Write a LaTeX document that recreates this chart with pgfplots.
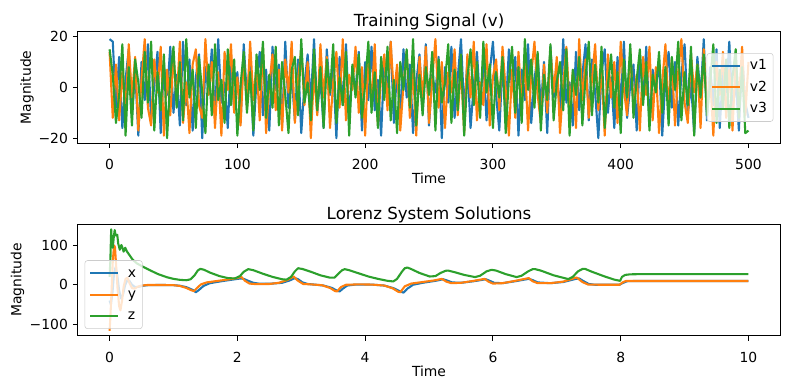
\documentclass[border=0pt]{standalone}
\usepackage{pgfplots}
\pgfplotsset{compat=1.18}
\usepackage{pgfplotstable}
\usepackage{fontspec}
\setmainfont{DejaVu Sans}
\definecolor{c0}{HTML}{1F77B4}
\definecolor{c1}{HTML}{FF7F0E}
\definecolor{c2}{HTML}{2CA02C}

\pgfplotstableread{
t v1 v2 v3
0 19 14 15
2.5 18 -12 5
5 -8 9 -14
7.5 12 -13 -3
10 -16 6 17
12.5 3 -9 -19
15 15 17 8
17.5 -11 -4 -15
20 7 12 11
22.5 -19 -17 2
25 10 3 -12
27.5 -5 19 14
30 17 -8 -6
32.5 -13 -15 18
35 1 11 -17
37.5 14 -2 6
40 -18 16 -9
42.5 9 -19 13
45 -3 7 -20
47.5 16 -11 4
50 -10 13 16
52.5 5 -6 -8
55 -15 18 10
57.5 18 -14 -13
60 -7 2 19
62.5 11 -18 -4
65 -17 9 7
67.5 4 15 -16
70 13 -7 12
72.5 -20 -12 -2
75 8 19 -18
77.5 -2 -3 9
80 15 10 -11
82.5 -12 -16 17
85 19 6 -5
87.5 -6 -19 3
90 2 14 -14
92.5 -16 -1 15
95 12 17 -7
97.5 -9 -10 11
100 6 4 -19
102.5 -14 -15 1
105 17 12 14
107.5 -4 -8 -10
110 10 18 6
112.5 -19 -5 -17
115 3 9 13
117.5 14 -13 -1
120 -11 16 18
122.5 7 -18 -12
125 -17 1 5
127.5 16 13 -8
130 -1 -9 16
132.5 9 7 -15
135 -15 -17 10
137.5 18 11 -3
140 -8 -2 -18
142.5 5 18 7
145 -13 -14 12
147.5 11 3 -11
150 -18 15 19
152.5 1 -7 -6
155 13 10 2
157.5 -6 -20 -13
160 19 6 15
162.5 -10 -11 -9
165 4 17 8
167.5 -16 -4 -16
170 15 12 11
172.5 -3 -16 -2
175 8 2 17
177.5 -20 14 -14
180 12 -8 4
182.5 -7 19 -7
185 17 -13 14
187.5 -12 5 -19
190 6 -1 9
192.5 -1 16 -4
195 14 -10 13
197.5 -17 8 -12
200 10 -19 1
202.5 -5 11 18
205 16 -6 -10
207.5 -9 17 6
210 3 -15 -16
212.5 -19 4 12
215 11 13 -5
217.5 -2 -9 16
220 18 18 -13
222.5 -14 -3 3
225 7 9 -18
227.5 -11 -17 10
230 15 1 -1
232.5 -4 14 15
235 9 -12 -8
237.5 -18 7 19
240 2 -19 -15
242.5 13 12 5
245 -8 -5 -11
247.5 17 16 8
250 -15 -14 -3
252.5 5 3 14
255 -2 19 -17
257.5 12 -8 11
260 -20 10 -6
262.5 8 -16 2
265 -6 6 17
267.5 16 -2 -14
270 -12 15 7
272.5 4 -11 -9
275 19 8 13
277.5 -9 -18 -19
280 10 13 4
282.5 -16 -4 15
285 1 18 -7
287.5 14 -13 10
290 -7 2 -12
292.5 11 -7 18
295 -13 17 -2
297.5 6 -15 9
300 18 4 -16
302.5 -3 11 6
305 -17 -9 -4
307.5 9 16 12
310 -10 -1 -18
312.5 15 -19 3
315 -1 7 16
317.5 12 -12 -10
320 -19 14 8
322.5 7 -6 -14
325 -5 10 19
327.5 17 -17 -1
330 -14 5 11
332.5 3 18 -8
335 13 -3 14
337.5 -8 -14 -17
340 10 9 5
342.5 -18 -10 -5
345 16 15 17
347.5 -4 -2 -13
350 8 12 2
352.5 -11 -18 10
355 19 1 -9
357.5 -6 16 15
360 2 -8 -19
362.5 -15 6 7
365 14 -16 -3
367.5 -9 19 12
370 5 -5 -15
372.5 17 11 4
375 -13 -12 18
377.5 11 3 -11
380 -2 17 9
382.5 -20 -9 -6
385 6 8 16
387.5 15 -19 -16
390 -10 13 1
392.5 4 -4 13
395 -16 10 -8
397.5 12 -14 6
400 -7 18 -18
402.5 18 -1 11
405 -12 -11 -4
407.5 1 14 17
410 9 -7 -12
412.5 -17 5 3
415 13 -17 15
417.5 -5 12 -7
420 16 -3 10
422.5 -14 16 -17
425 7 -13 5
427.5 -1 8 -2
430 11 -18 14
432.5 -19 2 -10
435 3 17 8
437.5 14 -9 -15
440 -8 11 12
442.5 10 -15 -1
445 -15 6 18
447.5 5 19 -13
450 17 -6 6
452.5 -11 -14 -7
455 2 13 16
457.5 -18 -2 -19
460 12 9 9
462.5 -4 -16 -4
465 19 15 13
467.5 -13 -8 -11
470 8 4 2
472.5 -7 -19 17
475 15 10 -14
477.5 -16 -3 7
480 6 14 -8
482.5 -2 -12 11
485 18 7 -16
487.5 -10 -17 4
490 3 12 15
492.5 -17 -5 -12
495 13 16 8
497.5 -6 -11 -18
500 -12 10 -17
}\sig

\pgfplotsset{
  mpl/.style={
    scale only axis, width=506pt, height=80.5pt,
    tick align=outside, xtick pos=bottom, ytick pos=left,
    major tick length=3.5pt,
    tick style={black, line width=0.8pt},
    axis line style={line width=0.8pt},
    /pgf/number format/assume math mode=true,
    tick label style={font=\fontsize{10}{12}\selectfont},
    label style={font=\fontsize{10}{12}\selectfont},
    title style={font=\fontsize{12}{14}\selectfont, at={(axis description cs:0.5,1)}, anchor=base, yshift=-2.5pt},
    xlabel style={at={(axis description cs:0.5,0)}, anchor=base, yshift=-29.3pt},
    xticklabel style={anchor=base, yshift=-15.5pt},
    yticklabel style={anchor=east},
    legend cell align=left,
    legend image code/.code={\draw[#1] (0pt,0pt) -- (20pt,0pt);},
    legend style={draw=black!20, fill=white, fill opacity=0.8, draw opacity=1, text opacity=1,
      rounded corners=2pt, font=\fontsize{10}{12}\selectfont, inner sep=3pt, column sep=5pt, row sep=2.8pt,
      nodes={inner sep=1.5pt, text height=7.5pt, text depth=2pt}},
    every axis plot/.append style={line width=1.5pt, line join=round},
  }
}

\begin{document}
\begin{tikzpicture}
\path[use as bounding box] (0,0) rectangle (568.8pt,280.08pt);
\begin{axis}[mpl, at={(55.9pt,176.9pt)}, anchor=south west,
  xmin=-25, xmax=525, ymin=-22, ymax=22,
  xtick={0,100,200,300,400,500},
  ytick={-20,0,20}, yticklabels={−20,0,20},
  title={Training Signal (v)}, xlabel={Time},
  ylabel={Magnitude},
  ylabel style={at={([xshift=-36.4pt]axis description cs:0,0.5)}, anchor=center},
  legend style={at={(axis description cs:1,0.5)}, anchor=east, xshift=-5pt},
]
\addplot[c0] table[x=t, y=v1] {\sig};
\addplot[c1] table[x=t, y=v2] {\sig};
\addplot[c2] table[x=t, y=v3] {\sig};
\legend{v1,v2,v3}
\end{axis}
\begin{axis}[mpl, at={(55.9pt,38.2pt)}, anchor=south west,
  xmin=-0.5, xmax=10.5, ymin=-130, ymax=154,
  xtick={0,2,4,6,8,10},
  ytick={-100,0,100}, yticklabels={−100,0,100},
  title={Lorenz System Solutions}, xlabel={Time},
  ylabel={Magnitude},
  ylabel style={at={([xshift=-43.2pt]axis description cs:0,0.5)}, anchor=center},
  legend style={at={(axis description cs:0,0)}, anchor=south west, xshift=5pt, yshift=5pt},
]
\addplot[c0] coordinates {(0,-40) (0.02,-50) (0.045,-20) (0.07,30) (0.095,45) (0.12,25) (0.15,-15) (0.18,-35) (0.21,-25) (0.245,0) (0.28,12) (0.31,10) (0.35,0) (0.4,-6) (0.46,-5) (0.52,-2.5) (0.6,-1) (0.8,-0.5) (1.0,-1) (1.1,-2.5) (1.2,-6) (1.3,-13) (1.35,-19) (1.4,-13) (1.47,-3) (1.57,4) (1.75,9) (1.92,13) (2.05,16) (2.1,15) (2.17,10) (2.25,5) (2.35,2.5) (2.5,2.5) (2.7,5) (2.82,11) (2.9,17) (2.95,14) (3.02,6) (3.1,2) (3.2,0.5) (3.35,-2) (3.48,-8) (3.56,-15) (3.6,-17) (3.65,-10) (3.72,-2) (3.85,0.5) (4.1,0.5) (4.3,-2) (4.45,-9) (4.55,-17) (4.6,-20) (4.66,-10) (4.75,0) (4.9,5) (5.1,10) (5.22,14) (5.28,11) (5.36,6) (5.5,5) (5.7,9) (5.89,14) (5.95,10) (6.02,5) (6.15,4) (6.35,9) (6.56,15) (6.62,12) (6.7,6) (6.9,4) (7.1,7) (7.3,15) (7.35,16) (7.42,9) (7.5,2) (7.6,0) (7.98,0) (8.04,5) (8.1,9) (8.2,9.5) (10,9.5)};
\addplot[c1] coordinates {(0,-117) (0.01,-90) (0.03,-20) (0.05,60) (0.07,100) (0.085,95) (0.1,55) (0.125,-10) (0.15,-55) (0.17,-65) (0.195,-40) (0.22,-5) (0.25,15) (0.28,18) (0.31,5) (0.35,-8) (0.39,-10) (0.44,-5) (0.5,-2) (0.6,-0.5) (0.8,-0.5) (1.0,-1) (1.1,-3) (1.2,-8) (1.28,-14) (1.32,-16) (1.37,-8) (1.43,1) (1.52,6) (1.7,10) (1.88,14) (2.0,17) (2.06,20) (2.12,10) (2.19,3) (2.3,1.5) (2.5,2) (2.65,5) (2.78,12) (2.85,18) (2.88,21) (2.95,10) (3.03,2) (3.15,1) (3.32,-1) (3.45,-8) (3.53,-16) (3.56,-17) (3.62,-6) (3.70,0) (3.9,1) (4.1,0.5) (4.3,-2) (4.43,-9) (4.52,-18) (4.55,-19) (4.62,-4) (4.72,3) (4.9,7) (5.08,11) (5.2,15) (5.27,8) (5.35,4) (5.5,5) (5.7,10) (5.87,15) (5.93,8) (6.00,3) (6.15,4) (6.35,10) (6.53,16) (6.56,17) (6.62,9) (6.70,4) (6.90,4) (7.10,8) (7.28,17) (7.31,18.5) (7.40,7) (7.49,0.5) (7.7,0) (7.98,0) (8.03,6) (8.08,9.5) (8.2,9.5) (10,9.5)};
\addplot[c2] coordinates {(0,20) (0.012,60) (0.025,141) (0.035,110) (0.05,94) (0.065,120) (0.08,139) (0.095,125) (0.12,127) (0.135,105) (0.16,89) (0.185,101) (0.2,95) (0.22,84) (0.245,94) (0.27,85) (0.3,78) (0.36,64) (0.43,54) (0.52,46) (0.63,37) (0.76,27) (0.9,19) (1.0,15) (1.1,12.5) (1.2,11.5) (1.27,14) (1.33,24) (1.38,36) (1.42,40.5) (1.48,38) (1.57,31) (1.72,22) (1.85,17) (1.96,16) (2.04,22) (2.10,33) (2.17,39.7) (2.25,37) (2.40,28) (2.55,20) (2.70,14) (2.77,13) (2.84,20) (2.90,34) (2.95,42) (3.02,40) (3.15,33) (3.30,24) (3.45,18) (3.52,18) (3.58,28) (3.64,37) (3.68,39.7) (3.75,37) (3.90,29) (4.05,21) (4.20,15) (4.35,10) (4.44,8.4) (4.50,15) (4.57,32) (4.62,42) (4.66,43.8) (4.72,40) (4.85,30) (5.01,21) (5.10,22) (5.18,30) (5.26,35.5) (5.30,36) (5.40,32) (5.55,25) (5.72,19.5) (5.80,23) (5.90,34) (5.98,38) (6.05,36) (6.20,27) (6.37,19.5) (6.45,23) (6.55,34) (6.62,39.5) (6.66,39.7) (6.75,36) (6.95,24) (7.18,14.4) (7.25,20) (7.33,34) (7.40,40) (7.44,40.5) (7.55,33) (7.75,21) (7.90,13) (7.99,10) (8.02,20) (8.07,25) (8.15,26.5) (8.30,27) (10,27)};
\legend{x,y,z}
\end{axis}
\end{tikzpicture}
\end{document}
